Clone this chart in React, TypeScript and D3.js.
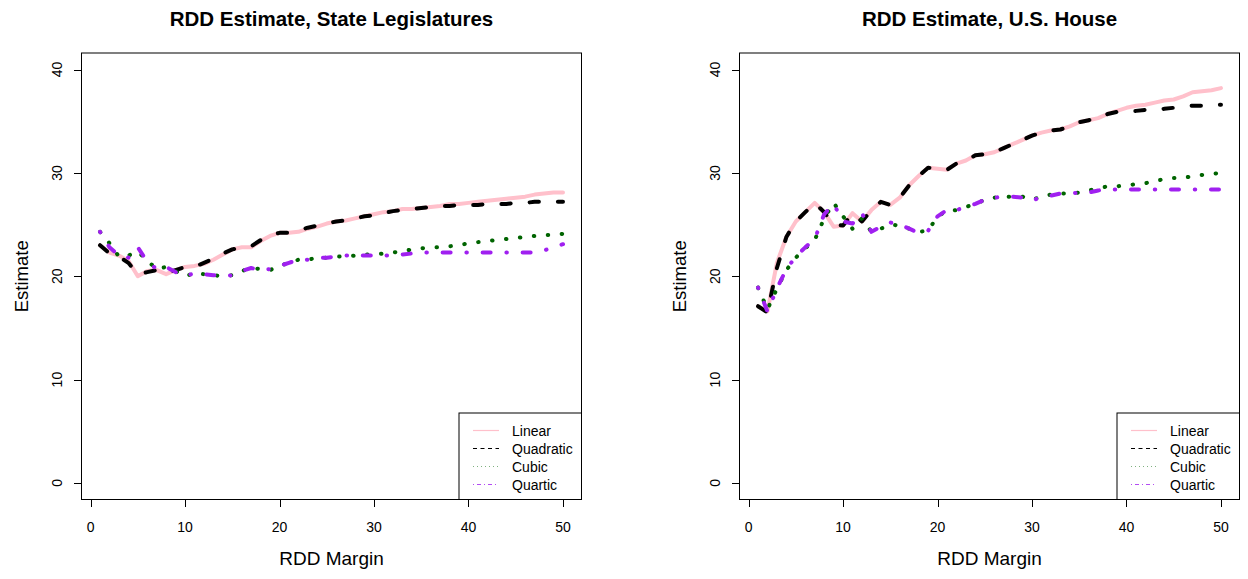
import React from "react";
import * as d3 from "d3";

// RDD bandwidths (margin, in points)
const margins = [
  1, 2, 3, 4, 5, 6, 7, 8, 9, 10, 11, 12, 13, 14, 15, 16, 17, 18, 19, 20, 21, 22, 23, 24, 25,
  26, 27, 28, 29, 30, 31, 32, 33, 34, 35, 36, 37, 38, 39, 40, 41, 42, 43, 44, 45, 46, 47, 48, 49, 50,
];

const xTicks = [0, 10, 20, 30, 40, 50];
const yTicks = [0, 10, 20, 30, 40];

// state legislatures
const stateLinear = [
  23.0, 22.3, 22.0, 21.5, 20.0, 20.5, 20.6, 20.2, 20.6, 20.9, 21.0, 21.2, 21.6, 22.1, 22.6, 22.8, 22.8, 23.4, 23.9, 24.2, 24.2, 24.3, 24.6, 24.8, 25.1,
  25.3, 25.4, 25.6, 25.8, 26.0, 26.2, 26.3, 26.5, 26.5, 26.6, 26.7, 26.8, 27.0, 27.0, 27.1, 27.2, 27.3, 27.4, 27.5, 27.6, 27.7, 27.9, 28.0, 28.1, 28.1,
];
const stateQuadratic = [
  23.0, 22.2, 21.9, 21.3, 20.2, 20.4, 20.6, 20.3, 20.6, 20.9, 20.9, 21.3, 21.7, 22.2, 22.6, 22.8, 22.9, 23.5, 24.0, 24.2, 24.2, 24.4, 24.7, 24.9, 25.1,
  25.3, 25.4, 25.6, 25.8, 25.9, 26.1, 26.3, 26.4, 26.5, 26.6, 26.7, 26.8, 26.8, 26.9, 26.9, 26.9, 27.0, 27.0, 27.0, 27.1, 27.1, 27.2, 27.2, 27.2, 27.2,
];
const stateCubic = [
  24.3, 23.2, 21.9, 22.0, 22.4, 21.5, 20.7, 20.9, 20.5, 20.0, 20.3, 20.2, 20.1, 20.0, 20.1, 20.5, 20.8, 20.7, 20.6, 21.0, 21.3, 21.6, 21.6, 21.8, 21.8,
  21.9, 21.9, 22.0, 22.1, 22.1, 22.2, 22.3, 22.4, 22.6, 22.7, 22.8, 22.8, 22.9, 23.0, 23.2, 23.3, 23.4, 23.5, 23.6, 23.7, 23.8, 23.9, 24.0, 24.0, 24.1,
];
const stateQuartic = [
  24.3, 22.8, 22.0, 21.8, 22.8, 21.4, 20.7, 20.9, 20.4, 20.0, 20.3, 20.2, 20.1, 20.0, 20.1, 20.5, 20.8, 20.6, 20.7, 21.0, 21.3, 21.6, 21.6, 21.8, 21.8,
  21.9, 22.0, 22.0, 22.0, 22.0, 22.0, 22.0, 22.1, 22.2, 22.3, 22.3, 22.3, 22.3, 22.3, 22.3, 22.3, 22.3, 22.3, 22.3, 22.3, 22.3, 22.3, 22.5, 22.8, 23.1,
];

// U.S. House
const houseLinear = [
  17.1, 16.6, 21.3, 23.8, 25.3, 26.2, 27.1, 26.2, 24.8, 24.9, 26.1, 25.3, 26.4, 27.2, 26.9, 27.6, 28.8, 29.7, 30.5, 30.4, 30.3, 30.9, 31.2, 31.7, 31.8,
  32.0, 32.4, 32.8, 33.2, 33.6, 33.9, 34.1, 34.2, 34.5, 34.9, 35.1, 35.3, 35.7, 36.0, 36.3, 36.5, 36.6, 36.8, 37.0, 37.1, 37.4, 37.8, 37.9, 38.0, 38.2,
];
const houseQuadratic = [
  17.1, 16.5, 20.8, 23.8, 25.3, 26.2, 27.1, 26.2, 25.0, 24.9, 26.1, 25.3, 26.4, 27.2, 26.9, 27.6, 28.8, 29.7, 30.5, 30.4, 30.3, 30.9, 31.2, 31.7, 31.8,
  32.0, 32.4, 32.8, 33.2, 33.6, 33.9, 34.1, 34.2, 34.5, 34.9, 35.1, 35.3, 35.7, 35.9, 36.0, 36.0, 36.1, 36.1, 36.2, 36.3, 36.4, 36.5, 36.5, 36.6, 36.6,
];
const houseCubic = [
  18.9, 16.8, 18.8, 20.6, 21.8, 22.7, 23.5, 25.6, 27.1, 25.8, 24.6, 25.6, 24.3, 24.6, 25.0, 24.9, 24.6, 24.3, 24.4, 25.8, 26.3, 26.4, 26.7, 27.0, 27.4,
  27.6, 27.7, 27.7, 27.7, 27.4, 27.7, 27.9, 28.0, 28.0, 28.1, 28.3, 28.5, 28.7, 28.7, 28.8, 28.9, 29.0, 29.2, 29.4, 29.5, 29.5, 29.7, 29.8, 29.9, 30.0,
];
const houseQuartic = [
  18.9, 16.6, 18.8, 20.7, 21.9, 22.8, 23.6, 26.0, 27.0, 25.3, 25.1, 26.1, 24.3, 24.8, 25.2, 25.0, 24.6, 24.2, 24.4, 25.8, 26.4, 26.4, 26.7, 27.0, 27.4,
  27.6, 27.7, 27.7, 27.6, 27.3, 27.7, 27.8, 28.0, 28.0, 28.1, 28.1, 28.3, 28.4, 28.4, 28.4, 28.4, 28.4, 28.4, 28.4, 28.4, 28.4, 28.4, 28.4, 28.4, 28.4,
];

const seriesNames = ["Linear", "Quadratic", "Cubic", "Quartic"];

// R-ish line types: lty 1..4, drawn with lwd 3
const styles = [
  { color: "#FFC0CB", dash: null, legendDash: null, legendOpacity: 1 },
  { color: "#000000", dash: "9.3 19", legendDash: "4 3.5", legendOpacity: 1 },
  { color: "#006400", dash: "0.5 13.5", legendDash: "1 3", legendOpacity: 0.5 },
  { color: "#A020F0", dash: "0.5 15.75 8 15.75", legendDash: "1 3 4 3", legendOpacity: 0.8 },
];

const font = "Liberation Sans, Arial, Helvetica, sans-serif";

function Panel({ left, title, series }) {
  const right = left + 500;
  const top = 53;
  const bottom = 499.5;

  const x = d3.scaleLinear().domain([-0.96, 51.96]).range([left, right]);
  const y = d3.scaleLinear().domain([-1.6, 41.6]).range([bottom, top]);
  const line = d3
    .line()
    .x((d, i) => x(margins[i]))
    .y((d) => y(d));

  const cx = (left + right) / 2;
  const cy = (top + bottom) / 2;

  // legend at bottom right
  const legW = 122.5;
  const legH = 86.5;
  const legX = right - legW;
  const legY = bottom - legH;

  return (
    <g>
      <text x={cx} y={26} textAnchor="middle" fontFamily={font} fontWeight="bold" fontSize={20.5}>
        {title}
      </text>

      {series.map((s, i) => (
        <path
          key={i}
          d={line(s)}
          fill="none"
          stroke={styles[i].color}
          strokeWidth={4}
          strokeLinecap="round"
          strokeLinejoin="round"
          strokeDasharray={styles[i].dash || undefined}
        />
      ))}

      <rect x={left} y={top} width={right - left} height={bottom - top} fill="none" stroke="#000" strokeWidth={1} />

      {/* bottom axis */}
      <line x1={x(xTicks[0])} x2={x(xTicks[xTicks.length - 1])} y1={bottom} y2={bottom} stroke="#000" />
      {xTicks.map((t) => (
        <g key={t}>
          <line x1={Math.round(x(t)) + 0.5} x2={Math.round(x(t)) + 0.5} y1={bottom} y2={bottom + 7.5} stroke="#000" />
          <text x={x(t)} y={532} textAnchor="middle" fontFamily={font} fontSize={14}>
            {t}
          </text>
        </g>
      ))}
      <text x={cx} y={565} textAnchor="middle" fontFamily={font} fontSize={19}>
        RDD Margin
      </text>

      {/* left axis */}
      <line x1={left} x2={left} y1={y(yTicks[0])} y2={y(yTicks[yTicks.length - 1])} stroke="#000" />
      {yTicks.map((t) => (
        <g key={t}>
          <line x1={left - 7.5} x2={left} y1={Math.round(y(t)) + 0.5} y2={Math.round(y(t)) + 0.5} stroke="#000" />
          <text
            transform={`translate(${left - 20},${y(t)}) rotate(-90)`}
            textAnchor="middle"
            fontFamily={font}
            fontSize={14}
          >
            {t}
          </text>
        </g>
      ))}
      <text
        transform={`translate(${left - 53.5},${cy}) rotate(-90)`}
        textAnchor="middle"
        fontFamily={font}
        fontSize={18.5}
      >
        Estimate
      </text>

      {/* legend */}
      <rect x={legX} y={legY} width={legW} height={legH} fill="#fff" stroke="#000" strokeWidth={1} />
      {seriesNames.map((name, i) => {
        const ry = legY + 17.5 + i * 18;
        return (
          <g key={name}>
            <line
              x1={legX + 14}
              x2={legX + 40}
              y1={ry}
              y2={ry}
              stroke={styles[i].color}
              strokeWidth={1.2}
              strokeOpacity={styles[i].legendOpacity}
              strokeDasharray={styles[i].legendDash || undefined}
            />
            <text x={legX + 53} y={ry + 5} fontFamily={font} fontSize={14}>
              {name}
            </text>
          </g>
        );
      })}
    </g>
  );
}

export default function App() {
  return (
    <svg
      width={1248}
      height={579}
      style={{ position: "absolute", left: 0, top: 0, background: "#fff" }}
    >
      <rect width={1248} height={579} fill="#fff" />
      <Panel
        left={81.5}
        title="RDD Estimate, State Legislatures"
        series={[stateLinear, stateQuadratic, stateCubic, stateQuartic]}
      />
      <Panel
        left={739.5}
        title="RDD Estimate, U.S. House"
        series={[houseLinear, houseQuadratic, houseCubic, houseQuartic]}
      />
    </svg>
  );
}
